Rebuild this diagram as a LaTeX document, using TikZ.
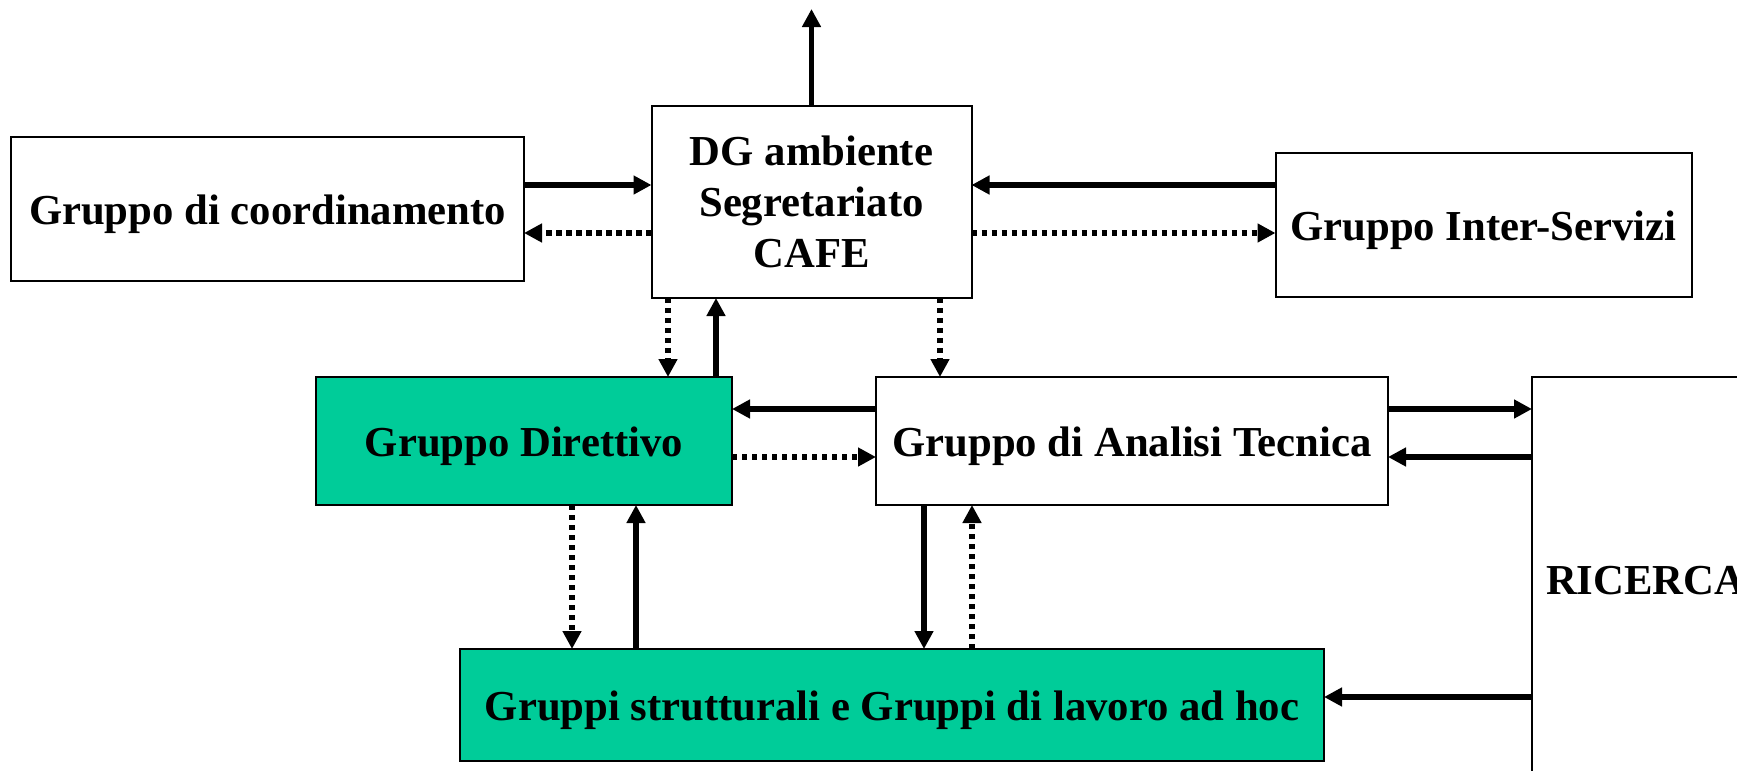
\documentclass[tikz,border=0pt]{standalone}
\usepackage{fontspec}
\setmainfont{Liberation Serif}
\usetikzlibrary{arrows.meta}
\definecolor{grn}{HTML}{00CC99}
\newcommand{\lowtxt}[1]{\raisebox{-2.6pt}[\height][\depth]{#1}}
\begin{document}
\begin{tikzpicture}[x=0.5pt,y=-0.5pt,
  box/.style={draw=black, line width=1pt, rectangle, inner sep=0pt, outer sep=0pt,
    align=center, font=\fontsize{21.35}{25.5}\selectfont\bfseries},
  txt/.style={inner sep=0pt, outer sep=0pt, font=\fontsize{21.35}{25.5}\selectfont\bfseries},
  solidarr/.style={line width=2.9pt, -{Triangle[length=9pt,width=9pt]}},
  dotarr/.style={line width=2.9pt, dash pattern=on 2.6pt off 2.4pt, -{Triangle[length=9pt,width=9pt]}}]
\useasboundingbox (0,0) rectangle (1737,771);
\clip (0,0) rectangle (1737,771);
\fill[white] (0,0) rectangle (1737,771);

\node[box, minimum width=256.5pt, minimum height=72pt] (coord) at (267.5,209) {\lowtxt{Gruppo di coordinamento}};
\node[box, minimum width=160pt, minimum height=96pt] (dg) at (811.5,202) {DG ambiente\\Segretariato\\CAFE};
\node[box, minimum width=208pt, minimum height=72pt] (inter) at (1483.5,225) {\lowtxt{Gruppo Inter-Servizi}};
\node[box, fill=grn, minimum width=208pt, minimum height=64pt] (dir) at (524,441) {\lowtxt{Gruppo Direttivo}};
\node[box, minimum width=256pt, minimum height=64pt] (ana) at (1132,441) {\lowtxt{Gruppo di Analisi Tecnica}};
\node[box, fill=grn, minimum width=432pt, minimum height=56pt] (grp) at (892,705) {\lowtxt{Gruppi strutturali e Gruppi di lavoro ad hoc}};
\node[box, anchor=north west, minimum width=200pt, minimum height=300pt] (ric) at (1532,377) {};
\node[txt, anchor=base west] (rictxt) at (1546,594) {RICERCA};
\coordinate (topend) at (811.5,9);

% top row
\draw[solidarr] (coord.east |- 0,185) -- (dg.west |- 0,185);
\draw[dotarr] (dg.west |- 0,233) -- (coord.east |- 0,233);
\draw[solidarr] (inter.west |- 0,185) -- (dg.east |- 0,185);
\draw[dotarr] (dg.east |- 0,233) -- (inter.west |- 0,233);
\draw[solidarr] (dg.north) -- (topend);

% DG to middle row
\draw[dotarr] (dg.south -| 668,0) -- (dir.north -| 668,0);
\draw[solidarr] (dir.north -| 716,0) -- (dg.south -| 716,0);
\draw[dotarr] (dg.south -| 940,0) -- (ana.north -| 940,0);

% middle row
\draw[solidarr] (ana.west |- 0,409) -- (dir.east |- 0,409);
\draw[dotarr] (dir.east |- 0,457) -- (ana.west |- 0,457);
\draw[solidarr] (ana.east |- 0,409) -- (ric.west |- 0,409);
\draw[solidarr] (ric.west |- 0,457) -- (ana.east |- 0,457);

% to bottom row
\draw[dotarr] (dir.south -| 572,0) -- (grp.north -| 572,0);
\draw[solidarr] (grp.north -| 636,0) -- (dir.south -| 636,0);
\draw[solidarr] (ana.south -| 924,0) -- (grp.north -| 924,0);
\draw[dotarr] (grp.north -| 972,0) -- (ana.south -| 972,0);
\draw[solidarr] (ric.west |- 0,697) -- (grp.east |- 0,697);
\end{tikzpicture}
\end{document}
